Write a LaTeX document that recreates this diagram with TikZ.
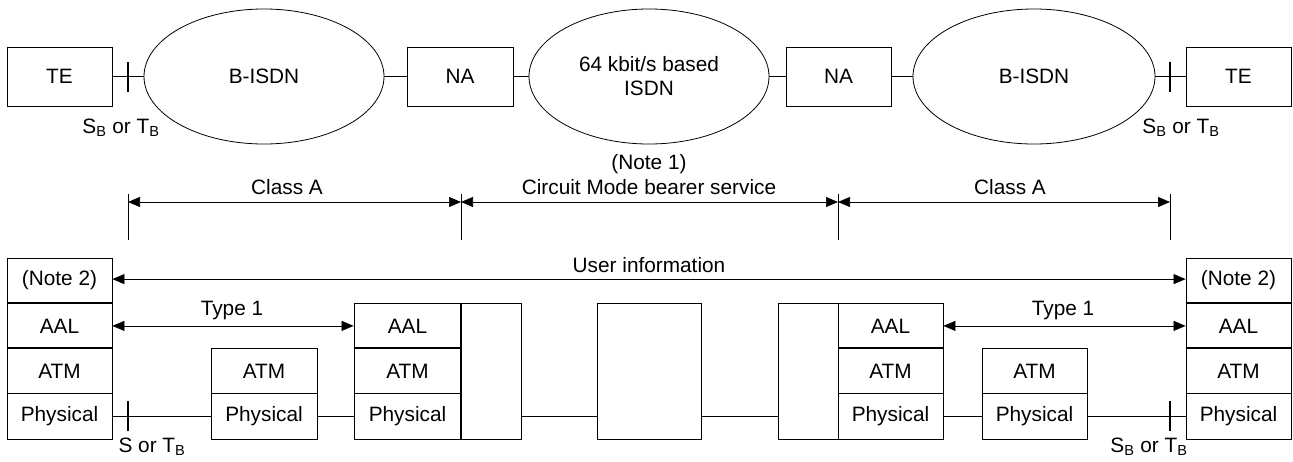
\documentclass[tikz,border=0pt]{standalone}
\usepackage{fontspec}
\setmainfont{Liberation Sans}
\usetikzlibrary{arrows.meta,shapes.geometric}
\begin{document}
\begin{tikzpicture}[x=1pt,y=-1pt,
  every node/.style={font=\fontsize{20.8}{24}\selectfont, inner sep=0pt},
  box/.style={draw, line width=0.8pt, minimum width=105pt, minimum height=59pt},
  oval/.style={draw, ellipse, line width=0.8pt, minimum width=240pt, minimum height=135pt, align=center},
  cell/.style={draw, line width=0.8pt, minimum height=45.25pt},
  link/.style={line width=1.7pt},
  tick/.style={line width=1.7pt},
  dim/.style={line width=0.7pt},
  dimarr/.style={line width=0.7pt, {Triangle[length=12pt,width=10pt]}-{Triangle[length=12pt,width=10pt]}},
  sep/.style={line width=1.6pt}
]
\useasboundingbox (0,0) rectangle (1293,461);
% ---------- top row
\node[box] (te1) at (59.5,76.5) {TE};
\node[oval] (bisdn1) at (264,76.5) {B-ISDN};
\node[box, minimum width=106pt] (na1) at (460,76.5) {NA};
\node[oval] (isdn) at (649,76.5) {64 kbit/s based\\ISDN};
\node[box] (na2) at (838.5,76.5) {NA};
\node[oval, minimum width=242pt] (bisdn2) at (1034,76.5) {B-ISDN};
\node[box] (te2) at (1238.5,76.5) {TE};
\draw[link] (te1) -- (bisdn1);
\draw[link] (bisdn1) -- (na1);
\draw[link] (na1) -- (isdn);
\draw[link] (isdn) -- (na2);
\draw[link] (na2) -- (bisdn2);
\draw[link] (bisdn2) -- (te2);
\coordinate (tk1) at (128,76.5);
\coordinate (tk2) at (1170,76.5);
\draw[tick] ([yshift=-15pt]tk1) -- ([yshift=15pt]tk1);
\draw[tick] ([yshift=-15pt]tk2) -- ([yshift=15pt]tk2);
\node (sb1) at (121,128) {S\textsubscript{B} or T\textsubscript{B}};
\node (sb2) at (1181,128) {S\textsubscript{B} or T\textsubscript{B}};
% ---------- dimension lines
\coordinate (d1) at (128,202);
\coordinate (d2) at (461,202);
\coordinate (d3) at (838,202);
\coordinate (d4) at (1170,202);
\foreach \c in {d1,d2,d3,d4} \draw[dim] ([yshift=-38pt]\c) -- ([yshift=8pt]\c);
\draw[dimarr] (d1) -- (d2);
\draw[dimarr] (d2) -- (d3);
\draw[dimarr] (d3) -- (d4);
\node (ca1) at (287,187) {Class A};
\node (n1) at (649,164) {(Note 1)};
\node (cm) at (649,187) {Circuit Mode bearer service};
\node (ca2) at (1010,187) {Class A};
% ---------- bottom: left terminal stack
\node[cell, minimum width=105pt] (note1) at (59.5,280.6) {(Note 2)};
\node[cell, minimum width=105pt] (aal1) at (59.5,325.9) {AAL};
\node[cell, minimum width=105pt] (atm1) at (59.5,371.1) {ATM};
\node[cell, minimum width=105pt] (phy1) at (59.5,416.4) {Physical};
% left ATM switch
\node[cell, minimum width=106pt] (atm2) at (264,371.1) {ATM};
\node[cell, minimum width=106pt] (phy2) at (264,416.4) {Physical};
% left NA stack
\node[cell, minimum width=107pt] (aal3) at (407.5,325.9) {AAL};
\node[cell, minimum width=107pt] (atm3) at (407.5,371.1) {ATM};
\node[cell, minimum width=107pt] (phy3) at (407.5,416.4) {Physical};
\node[draw, line width=0.8pt, minimum width=60pt, minimum height=135.75pt] (ext3) at (491,371.1) {};
% centre box
\node[draw, line width=0.8pt, minimum width=104pt, minimum height=135.75pt] (mid) at (649,371.1) {};
% right NA stack
\node[draw, line width=0.8pt, minimum width=60pt, minimum height=135.75pt] (ext4) at (808,371.1) {};
\node[cell, minimum width=105pt] (aal4) at (890.5,325.9) {AAL};
\node[cell, minimum width=105pt] (atm4) at (890.5,371.1) {ATM};
\node[cell, minimum width=105pt] (phy4) at (890.5,416.4) {Physical};
% right ATM switch
\node[cell, minimum width=105pt] (atm5) at (1034.5,371.1) {ATM};
\node[cell, minimum width=105pt] (phy5) at (1034.5,416.4) {Physical};
% right terminal stack
\node[cell, minimum width=105pt] (note6) at (1238.5,280.6) {(Note 2)};
\node[cell, minimum width=105pt] (aal6) at (1238.5,325.9) {AAL};
\node[cell, minimum width=105pt] (atm6) at (1238.5,371.1) {ATM};
\node[cell, minimum width=105pt] (phy6) at (1238.5,416.4) {Physical};
% thicker separators
\foreach \n in {aal1,atm1,phy1,phy2,atm3,phy3,atm4,phy4,phy5,aal6,atm6,phy6}
  \draw[sep] (\n.north west) -- (\n.north east);
\draw[sep] (ext3.north west) -- (ext3.south west);
\draw[sep] (ext4.north east) -- (ext4.south east);
% physical links
\draw[link] (phy1) -- (phy2);
\draw[link] (phy2) -- (phy3);
\draw[link] (phy3 -| ext3.east) -- (phy3 -| mid.west);
\draw[link] (phy4 -| mid.east) -- (phy4 -| ext4.west);
\draw[link] (phy4) -- (phy5);
\draw[link] (phy5) -- (phy6);
\coordinate (tk3) at (128,416.4);
\coordinate (tk4) at (1170,416.4);
\draw[tick] ([yshift=-15pt]tk3) -- ([yshift=15pt]tk3);
\draw[tick] ([yshift=-15pt]tk4) -- ([yshift=15pt]tk4);
\node (sb3) at (152,447) {S or T\textsubscript{B}};
\node (sb4) at (1149,447) {S\textsubscript{B} or T\textsubscript{B}};
% peer arrows
\draw[dimarr] ([yshift=1.5pt]note1.east) -- ([yshift=1.5pt]note6.west);
\node (ui) at (649,265) {User information};
\draw[dimarr] (aal1.east) -- (aal3.west);
\node (ty1) at (232,310) {Type 1};
\draw[dimarr] (aal4.east) -- (aal6.west);
\node (ty2) at (1063,310) {Type 1};
\end{tikzpicture}
\end{document}
